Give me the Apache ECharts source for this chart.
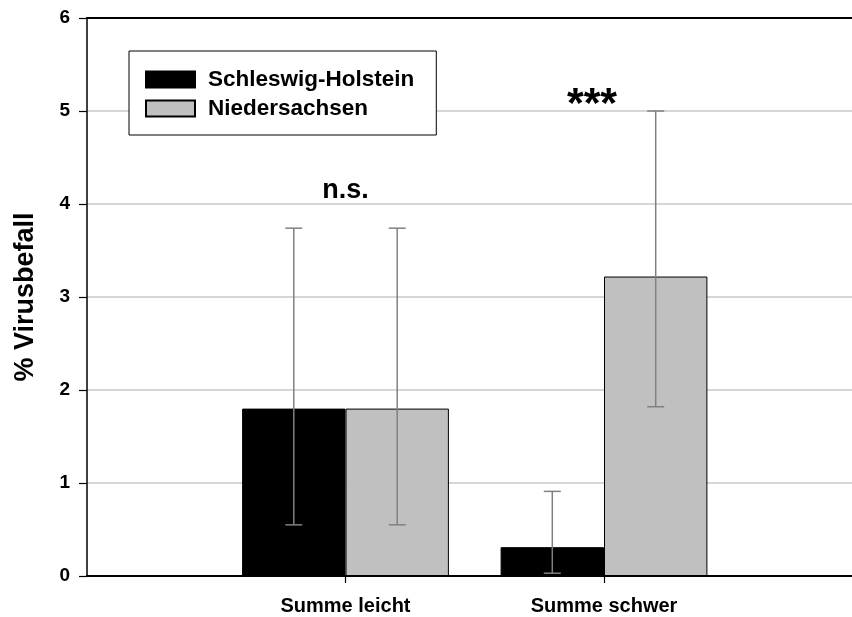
<!DOCTYPE html>
<html>
<head>
<meta charset="utf-8">
<script src="https://cdn.jsdelivr.net/npm/echarts@6/dist/echarts.min.js"></script>
<style>html,body{margin:0;padding:0;background:#fff;overflow:hidden;width:852px;height:617px;}#c{width:880px;height:617px;}</style>
</head>
<body>
<div id="c"></div>
<script>
const categories = ['', 'Summe leicht', 'Summe schwer', ''];
const seriesNames = ['Schleswig-Holstein', 'Niedersachsen'];
const shValues = [null, 1.8, 0.31, null];
const nsValues = [null, 1.8, 3.22, null];
const shLow = [null, 0.55, 0.03, null];
const shHigh = [null, 3.74, 0.91, null];
const nsLow = [null, 0.55, 1.82, null];
const nsHigh = [null, 3.74, 5.0, null];
const yTicks = [0, 1, 2, 3, 4, 5, 6];
const annotations = [[1, 4.15, 'n.s.'], [2, 5.06, '***']];

const FONT = '"Liberation Sans", Arial, sans-serif';
const chart = echarts.init(document.getElementById('c'), null, {renderer: 'canvas'});

function errData(low, high, off) {
  const d = [];
  for (let i = 0; i < categories.length; i++) {
    if (low[i] != null) d.push([i, low[i], high[i], off]);
  }
  return d;
}

const errorSeries = {
  type: 'custom',
  z: 10,
  silent: true,
  renderItem: function (params, api) {
    const cat = api.value(0);
    const bw = api.size([1, 0])[0];
    const off = api.value(3) * bw * 0.2;
    const lo = api.coord([cat, api.value(1)]);
    const hi = api.coord([cat, api.value(2)]);
    const x = lo[0] + off;
    const cap = 8.5;
    const style = {stroke: '#808080', lineWidth: 1.5};
    return {
      type: 'group',
      children: [
        {type: 'line', shape: {x1: x, y1: lo[1], x2: x, y2: hi[1]}, style: style},
        {type: 'line', shape: {x1: x - cap, y1: lo[1], x2: x + cap, y2: lo[1]}, style: style},
        {type: 'line', shape: {x1: x - cap, y1: hi[1], x2: x + cap, y2: hi[1]}, style: style}
      ]
    };
  },
  encode: {x: 0, y: [1, 2]},
  data: []
};

chart.setOption({
  animation: false,
  backgroundColor: '#fff',
  grid: {left: 87, right: 17.5, top: 18, height: 558, containLabel: false},
  legend: {
    orient: 'vertical',
    left: 129, top: 51,
    padding: [17, 22, 15, 16],
    itemWidth: 49, itemHeight: 16, itemGap: 6,
    icon: 'rect',
    backgroundColor: '#fff',
    borderColor: '#000', borderWidth: 1,
    data: seriesNames,
    textStyle: {fontFamily: FONT, fontWeight: 'bold', fontSize: 22.5, color: '#000', padding: [0, 0, 0, 8]}
  },
  xAxis: [{
    type: 'category',
    data: categories,
    boundaryGap: false,
    axisLine: {lineStyle: {color: '#000', width: 2}},
    axisTick: {show: true, length: 7, lineStyle: {color: '#000', width: 1.2}, interval: function (i) { return i === 1 || i === 2; }},
    axisLabel: {fontFamily: FONT, fontWeight: 'bold', fontSize: 20, color: '#000', margin: 20, interval: 0},
    splitLine: {show: false}
  }, {
    type: 'category',
    position: 'top',
    data: categories,
    boundaryGap: false,
    axisLine: {lineStyle: {color: '#000', width: 2}},
    axisTick: {show: false},
    axisLabel: {show: false}
  }],
  yAxis: {
    type: 'value',
    min: 0, max: 6, interval: 1,
    name: '% Virusbefall',
    nameLocation: 'middle',
    nameGap: 48,
    nameRotate: 90,
    nameTextStyle: {fontFamily: FONT, fontWeight: 'bold', fontSize: 27, color: '#000'},
    axisLine: {show: true, lineStyle: {color: '#000', width: 1.5}},
    axisTick: {show: true, length: 8, lineStyle: {color: '#000', width: 1.2}},
    axisLabel: {fontFamily: FONT, fontWeight: 'bold', fontSize: 19, color: '#000', margin: 17,
      formatter: function (v) { return yTicks.indexOf(v) >= 0 ? String(v) : ''; }},
    splitLine: {show: true, lineStyle: {color: '#c8c8c8', width: 1.5}}
  },
  series: [{
    name: seriesNames[0],
    type: 'bar',
    data: shValues,
    barWidth: '40%',
    barGap: '0%',
    itemStyle: {color: '#000', borderColor: '#000', borderWidth: 1}
  }, {
    name: seriesNames[1],
    type: 'bar',
    data: nsValues,
    barWidth: '40%',
    barGap: '0%',
    itemStyle: {color: '#c0c0c0', borderColor: '#000', borderWidth: 1}
  },
  Object.assign({}, errorSeries, {name: 'errSH', data: errData(shLow, shHigh, -1)}),
  Object.assign({}, errorSeries, {name: 'errNS', data: errData(nsLow, nsHigh, 1)}),
  {
    name: 'annot',
    type: 'scatter',
    symbolSize: 0,
    silent: true,
    z: 11,
    itemStyle: {opacity: 1},
    data: annotations.map(function (a, i) {
      return {value: [a[0], a[1]], label: {show: true, formatter: a[2], position: 'inside',
        offset: i === 1 ? [-12, 0] : [0, 0], opacity: 1,
        fontFamily: FONT, fontWeight: 'bold', fontSize: i === 1 ? 43 : 27, color: '#000'}};
    })
  }]
});
</script>
</body>
</html>
